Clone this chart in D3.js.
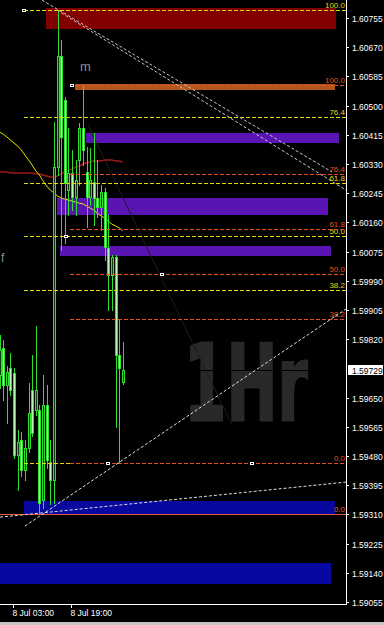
<!DOCTYPE html>
<html>
<head>
<meta charset="utf-8">
<title>1Hr chart</title>
<script src="https://cdnjs.cloudflare.com/ajax/libs/d3/7.8.5/d3.min.js"></script>
<style>
body { margin:0; background:#000; }
svg { display:block; }
text { font-family: "Liberation Sans", Arial, sans-serif; }
</style>
</head>
<body>
<div id="chart"></div>
<script>
// hourly bars, index 0 = 8 Jul 03:00 (first bar is 7 Jul 23:00)
var barIndex = d3.range(-4, 31);
var opens  = [1.59716,1.59794,1.59687,1.59736,1.59722,1.59483,1.59527,1.59439,1.59503,1.59672,1.59614,1.59614,1.59352,1.59628,1.59463,1.59410,1.60321,1.60644,1.60516,1.60254,1.60304,1.60234,1.60342,1.60435,1.60307,1.60234,1.60278,1.60231,1.60205,1.60249,1.60086,1.60007,1.60059,1.59774,1.59695];
var highs  = [1.59832,1.59818,1.59742,1.59780,1.59736,1.59556,1.59550,1.59527,1.59693,1.59774,1.59858,1.59628,1.59716,1.59687,1.59527,1.60452,1.60778,1.60691,1.60525,1.60435,1.60371,1.60342,1.60449,1.60560,1.60380,1.60377,1.60420,1.60342,1.60269,1.60260,1.60182,1.60065,1.60065,1.59876,1.59812];
var lows   = [1.59678,1.59643,1.59576,1.59658,1.59474,1.59381,1.59422,1.59410,1.59492,1.59538,1.59599,1.59314,1.59329,1.59445,1.59340,1.59343,1.60298,1.60080,1.60100,1.60182,1.60196,1.60182,1.60269,1.60327,1.60147,1.60211,1.60152,1.60176,1.60138,1.60051,1.59905,1.59905,1.59564,1.59460,1.59690];
var closes = [1.59789,1.59687,1.59725,1.59672,1.59483,1.59521,1.59439,1.59503,1.59605,1.59547,1.59672,1.59343,1.59628,1.59468,1.59410,1.60321,1.60644,1.60409,1.60275,1.60304,1.60234,1.60283,1.60435,1.60371,1.60234,1.60283,1.60231,1.60205,1.60249,1.60088,1.60007,1.60059,1.59774,1.59736,1.59729];
var maSlow = [1.60307,1.60307,1.60307,1.60304,1.60304,1.60304,1.60304,1.60304,1.60304,1.60304,1.60301,1.60301,1.60298,1.60295,1.60292,1.60292,1.60295,1.60301,1.60307,1.60312,1.60315,1.60321,1.60324,1.60330,1.60333,1.60336,1.60339,1.60339,1.60339,1.60342,1.60342,1.60342,1.60339,1.60339,1.60336];
var maFast = [1.60423,1.60417,1.60409,1.60400,1.60391,1.60382,1.60371,1.60356,1.60342,1.60327,1.60310,1.60298,1.60281,1.60266,1.60254,1.60246,1.60237,1.60231,1.60228,1.60225,1.60222,1.60219,1.60216,1.60214,1.60208,1.60202,1.60196,1.60187,1.60179,1.60173,1.60164,1.60155,1.60150,1.60144,1.60135];

var priceTicks = ["1.60755","1.60670","1.60585","1.60500","1.60415","1.60330","1.60245","1.60160","1.60075","1.59990","1.59905","1.59820","1.59650","1.59565","1.59480","1.59395","1.59310","1.59225","1.59140","1.59055"];
var timeTickIndex = [0, 16];
var timeTickLabels = ["8 Jul 03:00", "8 Jul 19:00"];
var lastPrice = "1.59729";

// fibonacci retracements [high, low, start bar]
var fibRatios = [0, 0.382, 0.5, 0.618, 0.764, 1];
var fibNames  = ["0.0", "38.2", "50.0", "61.8", "76.4", "100.0"];
var fibYellow = [1.60778, 1.59460, 2.76];
var fibRed    = [1.60560, 1.59460, 15.45];
var zeroLine  = 1.59311;

// rectangles
var boxStart = [8.83, 16.83, 19.86, 11.86, 12.69, 2.76, -3.86];
var boxEnd   = [88.83, 88.55, 89.66, 86.62, 87.45, 88.55, 87.45];
var boxTop   = [1.60784, 1.60562, 1.60420, 1.60231, 1.60091, 1.59349, 1.59169];
var boxBot   = [1.60723, 1.60544, 1.60391, 1.60182, 1.60062, 1.59311, 1.59107];
var boxColor = ["#820000", "#b4571d", "#5a14b4", "#5a14b4", "#5a14b4", "#0808a0", "#0808a0"];

// trend lines [bar1, price1, bar2, price2]
var trendA = [7.72, 1.60807, 87.72, 1.60307];
var trendB = [11.86, 1.60778, 91.59, 1.60254];
var trendC = [3.03, 1.59276, 91.59, 1.59908];
var trendD = [-3.86, 1.59302, 91.59, 1.59404];
var trendE = [20.41, 1.60444, 60.14, 1.59570];

// anchor markers [bar, price]
var markers = [[2.76, 1.60778], [16.0, 1.60560], [14.3, 1.60119], [40.8, 1.60010], [25.9, 1.59460], [65.7, 1.59460]];

var W = 384, H = 625, plotR = 346, plotB = 604;
var svg = d3.select("#chart").append("svg")
  .attr("width", W).attr("height", H)
  .style("background", "#000");

var x = d3.scaleLinear().domain([0, 16]).range([14, 72]);
var y = d3.scaleLinear().domain([1.59055, 1.60755]).range([602, 18]);

svg.append("clipPath").attr("id", "plot")
  .append("rect").attr("x", 0).attr("y", 0).attr("width", plotR).attr("height", plotB);
var g = svg.append("g").attr("clip-path", "url(#plot)");

// watermark, squeezed horizontally
g.append("text")
  .attr("transform", "translate(184,420) scale(0.575,1)")
  .style("font-family", "'DejaVu Sans', sans-serif")
  .style("font-size", "106px").style("font-weight", "bold")
  .style("fill", "#292929").style("stroke", "#292929").style("stroke-width", 3)
  .text("1Hr");

// rectangles
g.selectAll("rect.box").data(boxStart).enter().append("rect").attr("class", "box")
  .attr("x", function(d) { return Math.round(x(d)); })
  .attr("width", function(d, i) { return Math.round(x(boxEnd[i])) - Math.round(x(d)); })
  .attr("y", function(d, i) { return Math.round(y(boxTop[i])); })
  .attr("height", function(d, i) { return Math.round(y(boxBot[i])) - Math.round(y(boxTop[i])); })
  .style("fill", function(d, i) { return boxColor[i]; });

function seg(t, color, dash) {
  g.append("line")
    .attr("x1", x(t[0])).attr("y1", y(t[1]))
    .attr("x2", x(t[2])).attr("y2", y(t[3]))
    .style("stroke", color)
    .style("stroke-dasharray", dash || null);
}
seg(trendE, "#1c1c1c");
// bid line (black, only shows over the watermark)
var by = Math.round(y(+lastPrice)) + 0.5;
g.append("line").attr("x1", 0).attr("x2", plotR).attr("y1", by).attr("y2", by).style("stroke", "#000");

// moving averages
var line = d3.line().x(function(d, i) { return x(barIndex[i]); }).y(function(d) { return y(d); });
g.append("path").attr("d", line(maSlow)).style("fill", "none").style("stroke", "#a01818").style("stroke-width", 1.5);
g.append("path").attr("d", line(maFast)).style("fill", "none").style("stroke", "#e6e200").style("stroke-width", 1);

// candles
var bars = g.selectAll("g.bar").data(barIndex).enter().append("g").attr("class", "bar");
bars.append("line")
  .attr("x1", function(d) { return Math.round(x(d)) + 0.5; })
  .attr("x2", function(d) { return Math.round(x(d)) + 0.5; })
  .attr("y1", function(d, i) { return Math.round(y(highs[i])); })
  .attr("y2", function(d, i) { return Math.round(y(lows[i])) + 1; })
  .style("stroke", "#2ee02e");
bars.append("rect")
  .attr("x", function(d) { return Math.round(x(d)) - 0.5; })
  .attr("width", 2)
  .attr("y", function(d, i) { return Math.round(y(Math.max(opens[i], closes[i]))) + 0.5; })
  .attr("height", function(d, i) { return Math.max(1, Math.round(y(Math.min(opens[i], closes[i]))) - Math.round(y(Math.max(opens[i], closes[i])))); })
  .style("fill", function(d, i) { return closes[i] < opens[i] ? "#b8f8b0" : "#0b3d0b"; })
  .style("stroke", "#2ee02e");

// fibonacci levels
function fib(f, color, zeroEnd, skipZeroLabel) {
  fibRatios.forEach(function(r, i) {
    var py = Math.round(y(f[1] + (f[0] - f[1]) * r)) + 0.5;
    g.append("line").attr("x1", x(f[2])).attr("x2", r === 0 ? zeroEnd : plotR).attr("y1", py).attr("y2", py)
      .style("stroke", color).style("stroke-dasharray", "4,2");
    if (skipZeroLabel && r === 0) return;
    g.append("text").attr("x", 345).attr("y", py - 2.5)
      .attr("text-anchor", "end")
      .style("font-size", "8px").style("fill", color)
      .text(fibNames[i]);
  });
}
fib(fibYellow, "#e0dc10", x(fibRed[2]), true);
fib(fibRed, "#e4501e", plotR, false);

// solid zero line
var zy = Math.round(y(zeroLine)) + 0.5;
g.append("line").attr("x1", 0).attr("x2", plotR).attr("y1", zy).attr("y2", zy)
  .style("stroke", "#e4583c");
g.append("text").attr("x", 345).attr("y", zy - 2.5).attr("text-anchor", "end")
  .style("font-size", "8px").style("fill", "#e4583c").text("0.0");

// trend lines
seg(trendA, "#c8c8c8", "3,2");
seg(trendB, "#c8c8c8", "3,2");
seg(trendC, "#e0e0e0", "3,2");
seg(trendD, "#e0e0e0", "3,2");

// markers
g.selectAll("rect.mk").data(markers).enter().append("rect").attr("class", "mk")
  .attr("x", function(d) { return Math.round(x(d[0])) - 1.5; })
  .attr("y", function(d) { return Math.round(y(d[1])) - 0.5; })
  .attr("width", 3).attr("height", 2)
  .style("fill", "#000").style("stroke", "#fff");

// object labels
g.append("text").attr("x", 80).attr("y", 71).style("font-size", "13px").style("fill", "#8c8c8c").text("m");
g.append("text").attr("x", 1).attr("y", 262).style("font-size", "12px").style("fill", "#8c8c8c").text("f");

// price axis
var ya = svg.append("g");
ya.selectAll("line.tk").data(priceTicks).enter().append("line").attr("class", "tk")
  .attr("x1", plotR).attr("x2", plotR + 3)
  .attr("y1", function(d) { return Math.round(y(+d)) + 0.5; })
  .attr("y2", function(d) { return Math.round(y(+d)) + 0.5; })
  .style("stroke", "#fff");
ya.selectAll("text.tl").data(priceTicks).enter().append("text").attr("class", "tl")
  .attr("x", 352)
  .attr("y", function(d) { return Math.round(y(+d)) + 3.5; })
  .style("fill", "#fff").style("font-size", "8.5px")
  .text(function(d) { return d; });

// time axis
var xa = svg.append("g");
xa.selectAll("line").data(timeTickIndex).enter().append("line")
  .attr("x1", function(d) { return Math.round(x(d)) - 0.5; })
  .attr("x2", function(d) { return Math.round(x(d)) - 0.5; })
  .attr("y1", plotB).attr("y2", plotB + 4)
  .style("stroke", "#fff");
xa.selectAll("text").data(timeTickIndex).enter().append("text")
  .attr("x", function(d) { return Math.round(x(d)) - 1.5; })
  .attr("y", 616)
  .style("fill", "#fff").style("font-size", "8.5px")
  .text(function(d, i) { return timeTickLabels[i]; });

svg.append("line").attr("x1", plotR + 0.5).attr("x2", plotR + 0.5).attr("y1", 0).attr("y2", plotB + 1).style("stroke", "#fff");
svg.append("line").attr("x1", 0).attr("x2", plotR + 1).attr("y1", plotB + 0.5).attr("y2", plotB + 0.5).style("stroke", "#fff");

// current price tag
var cy = Math.round(y(+lastPrice));
svg.append("rect").attr("x", 348).attr("y", cy - 5).attr("width", 35).attr("height", 10).style("fill", "#fff");
svg.append("text").attr("x", 352).attr("y", cy + 3.5)
  .style("font-size", "8.5px").style("fill", "#000").text(lastPrice);

// bottom scrollbar band
svg.append("rect").attr("x", 0).attr("y", 622).attr("width", W).attr("height", 3).style("fill", "#c4c4c4");
</script>
</body>
</html>
